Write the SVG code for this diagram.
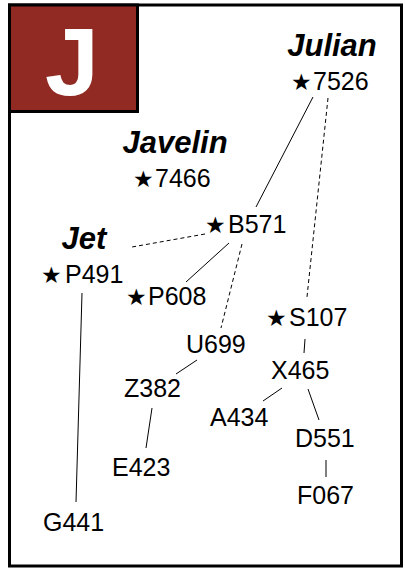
<svg xmlns="http://www.w3.org/2000/svg" width="405" height="568" viewBox="0 0 405 568">
<style>
.lbl{font-family:"Liberation Sans",Arial,sans-serif;font-size:25px;fill:#000}
.star{font-family:"DejaVu Sans",sans-serif;font-size:23px}
.grp{font-family:"Liberation Sans",Arial,sans-serif;font-size:31px;font-weight:bold;font-style:italic;fill:#000}
.s{stroke:#000;stroke-width:1;fill:none}
.d{stroke:#000;stroke-width:1;fill:none;stroke-dasharray:4 3}
</style>
<rect x="9.5" y="5" width="392" height="561" fill="#fff" stroke="#000" stroke-width="3"/>
<g id="badge">
<rect x="9.5" y="5" width="128" height="106.5" fill="#912A23" stroke="#000" stroke-width="3"/>
<text x="72" y="95" text-anchor="middle" font-family="Liberation Sans,Arial,sans-serif" font-size="97" font-weight="bold" fill="#fff">J</text>
</g>
<g id="connectors">
<line class="s" x1="313" y1="97" x2="256" y2="207"/>
<line class="d" x1="328" y1="98" x2="307" y2="297"/>
<line class="d" x1="205" y1="234" x2="132" y2="247"/>
<line class="s" x1="229" y1="243" x2="186" y2="282"/>
<line class="d" x1="242" y1="244" x2="221" y2="328"/>
<line class="s" x1="82" y1="293" x2="76" y2="502"/>
<line class="s" x1="197" y1="360" x2="176" y2="374"/>
<line class="s" x1="152" y1="408" x2="146" y2="448"/>
<line class="s" x1="305" y1="339" x2="304" y2="353"/>
<line class="s" x1="282" y1="388" x2="263" y2="401"/>
<line class="s" x1="308" y1="389" x2="319" y2="420"/>
<line class="s" x1="326" y1="460" x2="326" y2="477"/>
</g>
<g id="grp-julian"><text class="grp" x="332" y="56" text-anchor="middle">Julian</text></g>
<g id="grp-javelin"><text class="grp" x="175" y="153" text-anchor="middle">Javelin</text></g>
<g id="grp-jet"><text class="grp" x="84" y="249" text-anchor="middle">Jet</text></g>
<g id="n7526"><text class="lbl" x="291" y="90"><tspan class="star">★</tspan><tspan x="313">7526</tspan></text></g>
<g id="n7466"><text class="lbl" x="133" y="187"><tspan class="star">★</tspan><tspan x="155">7466</tspan></text></g>
<g id="nB571"><text class="lbl" x="205" y="233"><tspan class="star">★</tspan><tspan x="228">B571</tspan></text></g>
<g id="nP491"><text class="lbl" x="41" y="283"><tspan class="star">★</tspan><tspan x="65">P491</tspan></text></g>
<g id="nP608"><text class="lbl" x="126" y="305"><tspan class="star">★</tspan><tspan x="148">P608</tspan></text></g>
<g id="nS107"><text class="lbl" x="266" y="326"><tspan class="star">★</tspan><tspan x="289">S107</tspan></text></g>
<g id="nU699"><text class="lbl" x="186" y="353">U699</text></g>
<g id="nX465"><text class="lbl" x="271" y="379">X465</text></g>
<g id="nZ382"><text class="lbl" x="124" y="397">Z382</text></g>
<g id="nA434"><text class="lbl" x="210" y="426">A434</text></g>
<g id="nD551"><text class="lbl" x="295" y="447">D551</text></g>
<g id="nE423"><text class="lbl" x="112" y="476">E423</text></g>
<g id="nF067"><text class="lbl" x="297" y="504">F067</text></g>
<g id="nG441"><text class="lbl" x="43" y="531">G441</text></g>
</svg>
